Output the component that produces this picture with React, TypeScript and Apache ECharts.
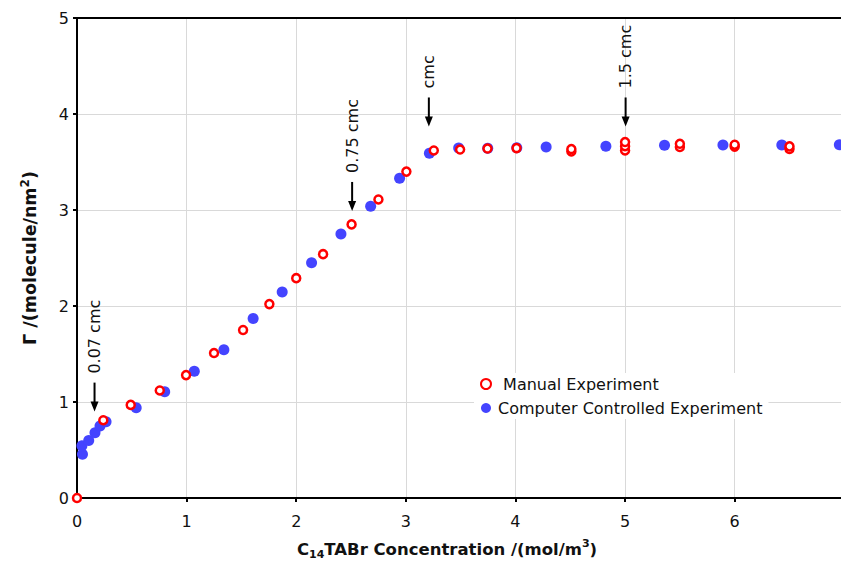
import React, { useEffect, useRef } from "react";
import * as echarts from "echarts";

const manualData: number[][] = [
  [0, 0], [0.24, 0.81], [0.49, 0.97], [0.755, 1.12], [0.995, 1.28], [1.25, 1.51],
  [1.515, 1.75], [1.755, 2.02], [2.0, 2.29], [2.245, 2.54], [2.505, 2.85], [2.75, 3.11],
  [3.005, 3.4], [3.255, 3.62], [3.495, 3.63], [3.745, 3.64], [4.01, 3.645],
  [4.51, 3.61], [4.51, 3.635], [5.0, 3.62], [5.0, 3.665], [5.0, 3.708],
  [5.5, 3.656], [5.5, 3.69], [6.0, 3.66], [6.0, 3.68], [6.5, 3.635], [6.5, 3.663],
];

const computerData: number[][] = [
  [0.05, 0.455], [0.045, 0.545], [0.107, 0.6], [0.164, 0.68], [0.21, 0.75], [0.265, 0.795],
  [0.54, 0.94], [0.8, 1.107], [1.07, 1.32], [1.34, 1.545], [1.607, 1.87], [1.872, 2.146],
  [2.14, 2.45], [2.408, 2.75], [2.679, 3.04], [2.943, 3.33], [3.215, 3.59], [3.482, 3.646],
  [3.747, 3.643], [4.012, 3.649], [4.28, 3.656], [4.825, 3.664], [5.36, 3.674],
  [5.893, 3.677], [6.43, 3.677], [6.955, 3.68],
];

const annotX = [0.16, 2.51, 3.21, 5.005];
const annotTip = [0.9, 2.99, 3.87, 3.87];
const annotLabels = ["0.07 cmc", "0.75 cmc", "cmc", "1.5 cmc"];

const seriesNames = ["Manual Experiment", "Computer Controlled Experiment"];
const FONT = "DejaVu Sans";

export default function App() {
  const ref = useRef<HTMLDivElement>(null);
  useEffect(() => {
    if (!ref.current) return;
    const chart = echarts.init(ref.current, undefined, { renderer: "svg" });
    const annotData = annotX.map((x, i) => [x, annotTip[i]]);
    chart.setOption({
      animation: false,
      textStyle: { fontFamily: FONT },
      grid: { left: 77, right: 0, top: 18, height: 480, containLabel: false, outerBoundsMode: "none" },
      legend: {
        data: [
          { name: seriesNames[0], icon: "circle" },
          { name: seriesNames[1], icon: "circle" },
        ],
        formatter: (name: string) => (name === seriesNames[0] ? " " + name : name),
        orient: "vertical",
        left: 474,
        top: 373,
        itemWidth: 14,
        itemHeight: 10,
        itemGap: 8,
        symbolKeepAspect: true,
        backgroundColor: "#fff",
        padding: [3, 6, 3, 6],
        textStyle: { fontFamily: FONT, fontSize: 16, color: "#111" },
      },
      xAxis: [
        {
          type: "value",
          min: 0,
          max: 6.97,
          interval: 1,
          name: "{b|C}{sub|14}{b|TABr Concentration /(mol/m}{sup|3}{b|)}",
          nameLocation: "middle",
          nameGap: 40,
          nameTextStyle: {
            padding: [0, 24, 0, 0],
            rich: {
              b: { fontFamily: FONT, fontSize: 16.5, fontWeight: "bold", color: "#111", lineHeight: 22 },
              sub: { fontFamily: FONT, fontSize: 11, fontWeight: "bold", color: "#111", verticalAlign: "bottom", lineHeight: 22, padding: [6, 0, 0, 0] },
              sup: { fontFamily: FONT, fontSize: 11, fontWeight: "bold", color: "#111", verticalAlign: "top", lineHeight: 22, padding: [0, 0, 8, 0] },
            },
          },
          axisLine: { lineStyle: { color: "#000", width: 2 } },
          axisTick: { length: 4, lineStyle: { color: "#000", width: 2 } },
          axisLabel: { fontFamily: FONT, fontSize: 16, color: "#111", margin: 15, showMaxLabel: false },
          splitLine: { show: true, lineStyle: { color: "#d9d9d9", width: 1 } },
        },
        {
          type: "value",
          position: "top",
          min: 0,
          max: 6.97,
          interval: 1,
          axisLine: { show: true, onZero: false, lineStyle: { color: "#000", width: 2 } },
          axisTick: { show: false },
          axisLabel: { show: false },
          splitLine: { show: false },
        },
      ],
      yAxis: {
        type: "value",
        min: 0,
        max: 5,
        interval: 1,
        name: "{b|Γ /(molecule/nm}{sup|2}{b|)}",
        nameLocation: "middle",
        nameGap: 36,
        nameTextStyle: {
          rich: {
            b: { fontFamily: FONT, fontSize: 17.5, fontWeight: "bold", color: "#111", lineHeight: 22 },
            sup: { fontFamily: FONT, fontSize: 12, fontWeight: "bold", color: "#111", verticalAlign: "top", lineHeight: 22, padding: [0, 0, 8, 0] },
          },
        },
        axisLine: { show: true, onZero: false, lineStyle: { color: "#000", width: 2 } },
        axisTick: { show: true, length: 4, lineStyle: { color: "#000", width: 2 } },
        axisLabel: { fontFamily: FONT, fontSize: 16, color: "#111", margin: 8 },
        splitLine: { show: true, lineStyle: { color: "#d9d9d9", width: 1 } },
      },
      series: [
        {
          name: seriesNames[1],
          type: "scatter",
          data: computerData,
          symbol: "circle",
          symbolSize: 11,
          itemStyle: { color: "#4444ff", opacity: 1 },
          z: 2,
        },
        {
          name: seriesNames[0],
          type: "scatter",
          data: manualData,
          symbol: "circle",
          symbolSize: 8,
          itemStyle: { color: "#fff", borderColor: "#ff0000", borderWidth: 2.5, opacity: 1 },
          z: 3,
        },
        {
          type: "custom",
          name: "annotations",
          data: annotData,
          clip: false,
          z: 4,
          silent: true,
          renderItem: (params: any, api: any) => {
            const p = api.coord([api.value(0), api.value(1)]);
            const label = annotLabels[params.dataIndex];
            return {
              type: "group",
              children: [
                {
                  type: "line",
                  shape: { x1: p[0], y1: p[1] - 29, x2: p[0], y2: p[1] - 8 },
                  style: { stroke: "#000", lineWidth: 2 },
                },
                {
                  type: "polygon",
                  shape: { points: [[p[0] - 4, p[1] - 10], [p[0] + 4, p[1] - 10], [p[0], p[1]]] },
                  style: { fill: "#000" },
                },
                {
                  type: "text",
                  x: p[0],
                  y: p[1] - 38,
                  rotation: Math.PI / 2,
                  style: {
                    text: label,
                    fontFamily: FONT,
                    fontSize: 16,
                    fill: "#111",
                    align: "left",
                    verticalAlign: "middle",
                  },
                },
              ],
            };
          },
        },
      ],
    });
    return () => chart.dispose();
  }, []);
  return (
    <div
      ref={ref}
      style={{ position: "fixed", left: 0, top: 0, width: 841, height: 561, background: "#fff" }}
    />
  );
}
